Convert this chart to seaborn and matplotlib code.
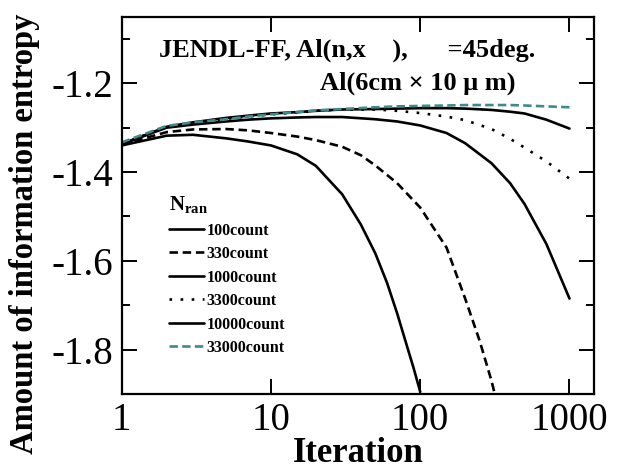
import numpy as np
import pandas as pd
import matplotlib
matplotlib.use("Agg")
import matplotlib.pyplot as plt
import seaborn as sns

# data
it_100 = [1, 2, 3, 5, 7, 10, 15, 20, 30, 40, 50, 60, 70, 80, 90, 100]
ent_100 = [-1.340, -1.318, -1.316, -1.324, -1.331, -1.340, -1.360, -1.386, -1.450, -1.518,
           -1.583, -1.650, -1.718, -1.783, -1.840, -1.895]

it_330 = [1, 2, 3, 5, 7, 10, 15, 20, 30, 40, 50, 70, 100, 150, 200, 250, 300, 350]
ent_330 = [-1.338, -1.310, -1.304, -1.303, -1.306, -1.312, -1.320, -1.328, -1.343, -1.362,
           -1.385, -1.425, -1.480, -1.570, -1.685, -1.780, -1.870, -1.960]

it_all = [1, 2, 3, 5, 7, 10, 15, 20, 30, 50, 70, 100, 150, 200, 300, 400, 500, 700, 1000]
ent_1000 = [-1.337, -1.300, -1.293, -1.286, -1.282, -1.279, -1.277, -1.276, -1.276, -1.281,
            -1.286, -1.295, -1.312, -1.335, -1.380, -1.425, -1.472, -1.562, -1.685]
ent_3300 = [-1.337, -1.298, -1.290, -1.280, -1.275, -1.270, -1.266, -1.262, -1.259, -1.259,
            -1.262, -1.267, -1.275, -1.283, -1.303, -1.325, -1.345, -1.376, -1.415]
ent_10000 = [-1.337, -1.298, -1.288, -1.278, -1.273, -1.268, -1.265, -1.262, -1.259, -1.258,
             -1.257, -1.256, -1.256, -1.257, -1.260, -1.264, -1.268, -1.282, -1.302]
ent_33000 = [-1.333, -1.296, -1.288, -1.281, -1.275, -1.270, -1.265, -1.261, -1.258, -1.254,
             -1.252, -1.251, -1.250, -1.249, -1.249, -1.249, -1.250, -1.252, -1.254]

labels = ["100count", "330count", "1000count", "3300count", "10000count", "33000count"]

sns.set_style("ticks")
plt.rcParams["font.family"] = ["Liberation Serif", "DejaVu Serif"]
plt.rcParams["mathtext.fontset"] = "custom"
plt.rcParams["mathtext.rm"] = "Liberation Serif"
plt.rcParams["mathtext.bf"] = "Liberation Serif:bold"
for key in ["text.color", "axes.labelcolor", "xtick.color", "ytick.color", "axes.edgecolor"]:
    plt.rcParams[key] = "black"

fig = plt.figure(figsize=(6.17, 4.71), dpi=100)
ax = fig.add_axes([0.1972, 0.1635, 0.766, 0.801])

teal = "#3f8a8c"
lw = 1.9
series = [
    (it_100, ent_100, "black", "-"),
    (it_330, ent_330, "black", (0, (3.2, 1.8))),
    (it_all, ent_1000, "black", "-"),
    (it_all, ent_3300, "black", (0, (1.0, 3.2))),
    (it_all, ent_10000, "black", "-"),
    (it_all, ent_33000, teal, (0, (3.2, 1.6))),
]
for (x, y, c, ls), lab in zip(series, labels):
    df = pd.DataFrame({"Iteration": x, "entropy": y})
    sns.lineplot(data=df, x="Iteration", y="entropy", ax=ax, color=c,
                 linestyle=ls, linewidth=lw, label=lab)

ax.set_xscale("log")
ax.set_xlim(1, 1466)
ax.set_ylim(-1.88, -1.05)
ax.set_yticks([-1.8, -1.6, -1.4, -1.2])
ax.set_yticklabels(["-1.8", "-1.6", "-1.4", "-1.2"])
ax.set_yticks(np.arange(-1.9, -1.0, 0.2), minor=True)
ax.set_xticks([1, 10, 100, 1000])
ax.set_xticklabels(["1", "10", "100", "1000"])
ax.xaxis.set_minor_locator(matplotlib.ticker.NullLocator())

ax.tick_params(axis="both", which="major", direction="in", length=11, width=1.4,
               top=True, right=True, labelsize=28, pad=6)
ax.tick_params(axis="y", which="minor", direction="in", length=6, width=1.4, right=True)
for s in ax.spines.values():
    s.set_linewidth(1.6)

ax.set_xlabel("Iteration", fontsize=25, fontweight="bold", labelpad=-2)
ax.set_ylabel("Amount of information entropy", fontsize=23.5, fontweight="bold")
ax.yaxis.set_label_coords(-0.172, 0.425)

ax.text(0.08, 0.912, "JENDL-FF, Al(n,x    ),      =45deg.", transform=ax.transAxes,
        fontsize=19, fontweight="bold", va="center", ha="left")
ax.text(0.42, 0.824, "Al(6cm \u00d7 10 \u03bc m)", transform=ax.transAxes,
        fontsize=19, fontweight="bold", va="center", ha="left")

leg = ax.legend(title=r"$\mathbf{N_{ran}}$", loc="upper left", bbox_to_anchor=(0.10, 0.53),
                frameon=False, fontsize=11.5, title_fontsize=15, handlelength=2.2,
                handletextpad=0.15, labelspacing=0.47, borderaxespad=0, borderpad=0)
leg._legend_box.align = "left"
for t in leg.get_texts():
    t.set_fontweight("bold")

fig.savefig("out.png", dpi=100)
